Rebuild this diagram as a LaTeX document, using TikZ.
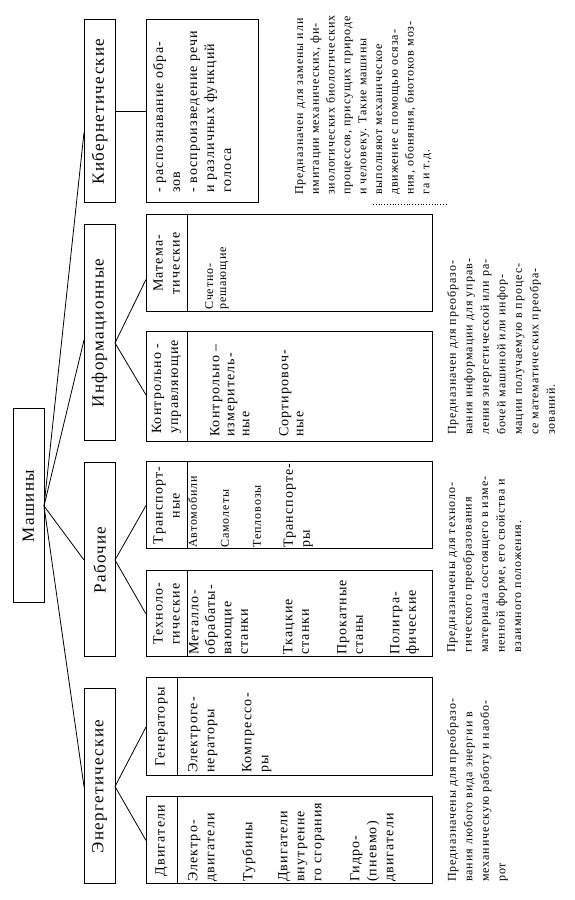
\documentclass[tikz,border=0pt]{standalone}
\usepackage{fontspec}
\setmainfont{Liberation Serif}[LetterSpace=8]
\usetikzlibrary{calc}
\newcommand{\jst}[1]{\makebox[\hsize][s]{#1}}

\tikzset{
  lvl/.style={draw, line width=1pt, inner sep=0pt, outer sep=0pt, minimum height=31, font=\fontsize{17}{20}\selectfont},
  head/.style={draw, line width=1pt, inner sep=0pt, outer sep=0pt, anchor=north west, font=\fontsize{14}{17}\selectfont},
  body/.style={draw, line width=1pt, inner sep=0pt, outer sep=0pt, anchor=north},
  item/.style={inner sep=0pt, anchor=north west, align=left, font=\fontsize{14}{17}\selectfont},
  itemsm/.style={inner sep=0pt, anchor=north west, align=left, font=\fontsize{12}{13}\selectfont},
  dsc/.style={inner sep=0pt, anchor=north west, align=left, font=\fontsize{12}{16.5}\selectfont},
  link/.style={line width=0.8pt}
}

\begin{document}
\begin{tikzpicture}[x=1pt, y=1pt, rotate=90, transform shape]
\useasboundingbox (0,-574) rectangle (900,0);
% root and first level
\node[lvl, minimum width=194] (mash) at (394,-28.5) {Машины};
\node[lvl, minimum width=183] (kib) at (788.5,-99.5) {Кибернетические};
\node[lvl, minimum width=216] (inf) at (567,-99.5) {Информационные};
\node[lvl, minimum width=194] (rab) at (340,-99.5) {Рабочие};
\node[lvl, minimum width=195] (ener) at (113.5,-99.5) {Энергетические};

% second level
\node[head, minimum width=87, minimum height=31] (dvig) at (16,-146) {Двигатели};
\node[body, minimum width=87, minimum height=255] (dvigb) at (dvig.south) {};
\node[head, minimum width=98, minimum height=31] (gen) at (124,-146) {Генераторы};
\node[body, minimum width=98, minimum height=255] (genb) at (gen.south) {};
\node[head, minimum width=86, minimum height=41, align=left] (tech) at (243,-146) {Техноло-\\гические};
\node[body, minimum width=86, minimum height=245] (techb) at (tech.south) {};
\node[head, minimum width=87, minimum height=41, align=center] (tran) at (351,-146) {Транспорт-\\ные};
\node[body, minimum width=87, minimum height=245] (tranb) at (tran.south) {};
\node[head, minimum width=110, minimum height=41, align=left] (kont) at (458,-146) {Контрольно -\\управляющие};
\node[body, minimum width=110, minimum height=245] (kontb) at (kont.south) {};
\node[head, minimum width=97, minimum height=41, align=center] (mat) at (588,-146) {Матема-\\тические};
\node[body, minimum width=97, minimum height=245] (matb) at (mat.south) {};
\node[body, anchor=north west, minimum width=183, minimum height=112] (kibc) at (697,-146) {};

% box contents
\node[item] (dvigt) at (18,-188) {Электро-\\двигатели\\[21pt]Турбины\\[18pt]Двигатели\\внутренне\\го сгорания\\[21pt]Гидро-\\(пневмо)\\двигатели};
\node[item] (gent) at (127,-188) {Электроге-\\нераторы\\[20pt]Компрессо-\\ры};
\node[item, font=\fontsize{14}{16.5}\selectfont] (techt) at (245,-189) {Металло-\\обрабаты-\\вающие\\станки\\[28pt]Ткацкие\\станки\\[21pt]Прокатные\\станы\\[20pt]Полигра-\\фические};
\node[item] (trant) at (352,-188) {{\fontsize{12}{14}\selectfont Автомобили}\\[15pt]{\fontsize{12}{14}\selectfont Самолеты}\\[15pt]{\fontsize{12}{14}\selectfont Тепловозы}\\[15pt]Транспорте-\\ры};
\node[item, font=\fontsize{14}{15}\selectfont] (kontt) at (463,-210) {Контрольно –\\измеритель-\\ные\\[24pt]Сортировоч-\\ные};
\node[itemsm] (matt) at (590,-205) {Счетно-\\решающие};
\node[item] (kibt) at (707,-153) {- распознавание обра-\\зов\\- воспроизведение речи\\и различных функций\\голоса};

% descriptions
\node[dsc, text width=202] (endsc) at (18,-447) {\jst{Предназначены для преобразо-}\\\jst{вания любого вида энергии в}\\\jst{механическую работу и наобо-}\\рот};
\node[dsc, text width=191] (wodsc) at (247,-447) {\jst{Предназначены для техноло-}\\\jst{гического преобразования}\\\jst{материала состоящего в изме-}\\\jst{ненной форме, его свойства и}\\взаимного положения.};
\node[dsc] (indsc) at (465,-447) {Предназначен для преобразо-\\вания информации для управ-\\ления энергетической или ра-\\бочей машиной или инфор-\\мации получаемую в процес-\\се математических преобра-\\зований.};
\node[dsc, font=\fontsize{12}{15.8}\selectfont] (kidsc) at (705,-295) {Предназначен для замены или\\имитации механических, фи-\\зиологических биологических\\процессов, присущих природе\\и человеку. Такие машины\\выполняют механическое\\движение с помощью осяза-\\ния, обоняния, биотоков моз-\\га и т.д.};
\draw[dotted, line width=0.8pt] (696,-373) -- (696,-447);

% connectors
\draw[link] (mash.south) -- ($(kib.north)+(-21,0)$);
\draw[link] (mash.south) -- ($(inf.north)+(-7,0)$);
\draw[link] (mash.south) -- (rab.north);
\draw[link] (mash.south) -- (ener.north);
\draw[link] (ener.south) -- (dvig.north);
\draw[link] (ener.south) -- (gen.north);
\draw[link] (rab.south) -- (tech.north);
\draw[link] (rab.south) -- (tran.north);
\draw[link] ($(inf.south)+(-10,0)$) -- ($(kont.north)+(-8,0)$);
\draw[link] ($(inf.south)+(-10,0)$) -- ($(mat.north)+(-16,0)$);
\draw[link] (kib.south) -- (kibc.north);
\end{tikzpicture}
\end{document}
